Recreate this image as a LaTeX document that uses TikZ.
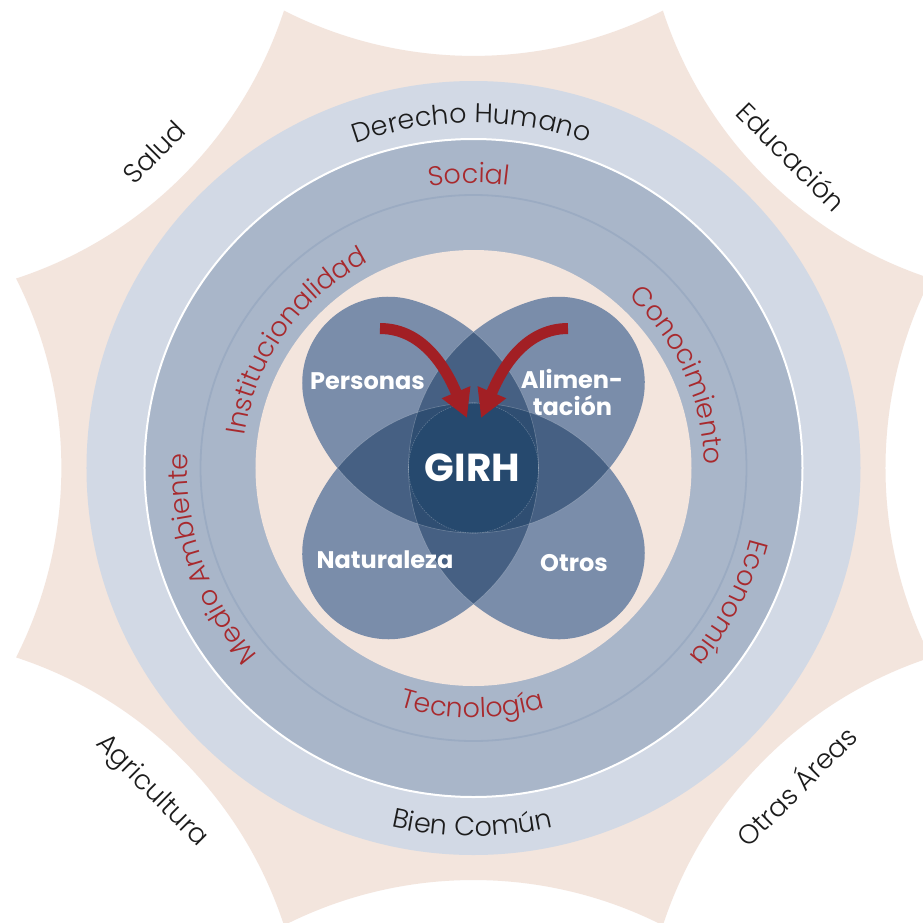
\documentclass[tikz,border=0pt]{standalone}
\usepackage{fontspec}
\setmainfont{Poppins}
\IfFontExistsTF{Poppins Light}{\newfontfamily\lightfam{Poppins Light}}{\newfontfamily\lightfam{Poppins}}
\usetikzlibrary{decorations.text,arrows.meta}
\definecolor{peach}{HTML}{F3E5DD}
\definecolor{ringlight}{HTML}{D2D9E5}
\definecolor{ringdark}{HTML}{A9B6C9}
\definecolor{ringline}{HTML}{9BABC2}
\definecolor{petalL}{HTML}{7A8DAA}
\definecolor{petalM}{HTML}{466083}
\definecolor{petalD}{HTML}{2F4E72}
\definecolor{petalC}{HTML}{26496E}
\definecolor{ringred}{HTML}{A8292D}
\definecolor{arrowred}{HTML}{A21F24}
\definecolor{textblack}{HTML}{1C1C1C}
\newcommand{\ringfont}{\lightfam\fontsize{27}{32}\selectfont}
\newcommand{\petalfont}{\fontsize{24}{28}\selectfont\bfseries}
\begin{document}
\begin{tikzpicture}[x=1pt,y=1pt,
  petal/.style={fill=petalL},
  faint/.style={draw=white, draw opacity=0.25, line width=0.6pt},
  bigarrow/.style={draw=arrowred, line width=11pt, -{Triangle[width=29pt,length=28pt]}},
  cornerlabel/.style={font=\ringfont, text=textblack, inner sep=0pt},
  petallabel/.style={font=\petalfont, text=white, anchor=base, inner sep=0pt},
]
\useasboundingbox (-473.5,-454) rectangle (449.5,468);
\clip (-473.5,-454) rectangle (449.5,468);
\fill[white] (-473.5,-454) rectangle (449.5,468);
% star
\fill[peach] (-22.5:495) \foreach \k in {0,...,7}{ arc[start angle={206.91+45*\k}, end angle={153.09+45*\k}, radius=418.6] } -- cycle;
% rings
\fill[ringlight] (0,0) circle[radius=387];
\fill[ringdark] (0,0) circle[radius=329];
\draw[white, line width=2pt] (0,0) circle[radius=329];
\draw[ringline, line width=1.8pt] (0,0) circle[radius=273];
\fill[peach] (0,0) circle[radius=218];
% petals
\foreach \r in {0,90,180,270}{
  \fill[petal, rotate=\r] (65,0) arc[start angle=0, end angle=73.735, radius=174.8]
     arc[start angle=73.735, end angle=196.265, radius=86.256]
     arc[start angle=196.265, end angle=270, radius=174.8]
     arc[start angle=-90, end angle=0, radius=65] -- cycle;
}
\begin{scope}
  \clip (-109.8,0) circle[radius=174.8];
  \fill[petalM] (109.8,0) circle[radius=174.8];
\end{scope}
\begin{scope}
  \clip (0,-109.8) circle[radius=174.8];
  \fill[petalM] (0,109.8) circle[radius=174.8];
\end{scope}
\begin{scope}
  \clip (-109.8,0) circle[radius=174.8];
  \clip (109.8,0) circle[radius=174.8];
  \clip (0,-109.8) circle[radius=174.8];
  \fill[petalD] (0,109.8) circle[radius=174.8];
\end{scope}
\fill[petalC] (0,0) circle[radius=65];
\foreach \r in {0,90,180,270}{
  \draw[faint, rotate=\r] (0,-136) arc[start angle=-51.09, end angle=51.09, radius=174.8];
}
\draw[faint, dash pattern=on 1.5pt off 1pt] (0,0) circle[radius=65];
% ring texts
\path[decorate, decoration={text along path, text align=center, text={|\ringfont\color{textblack}|Derecho Humano}}] (160.3:345) arc[start angle=160.3, end angle=20.3, radius=345];
\path[decorate, decoration={text along path, text align=center, text={|\ringfont\color{textblack}|Bien Común}}] (199.8:368) arc[start angle=199.8, end angle=339.8, radius=368];
\path[decorate, decoration={text along path, text align=center, text={|\ringfont\color{ringred}|Social}}] (160.9:285) arc[start angle=160.9, end angle=20.9, radius=285];
\path[decorate, decoration={text along path, text align=center, text={|\ringfont\color{ringred}|Economía}}] (42.3:286) arc[start angle=42.3, end angle=-97.7, radius=286];
\path[decorate, decoration={text along path, text align=center, text={|\ringfont\color{ringred}|Medio Ambiente}}] (269:286) arc[start angle=269, end angle=129, radius=286];
\path[decorate, decoration={text along path, text align=center, text={|\ringfont\color{ringred}|Institucionalidad}}] (214.5:231) arc[start angle=214.5, end angle=74.5, radius=231];
\path[decorate, decoration={text along path, text align=center, text={|\ringfont\color{ringred}|Conocimiento}}] (94.3:231) arc[start angle=94.3, end angle=-45.7, radius=231];
\path[decorate, decoration={text along path, text align=center, text={|\ringfont\color{ringred}|Tecnología}}] (199.7:250) arc[start angle=199.7, end angle=339.7, radius=250];
% corner labels
\node[cornerlabel, rotate=45] (salud) at (-319.5,316) {Salud};
\node[cornerlabel, rotate=-45] (educ) at (318,311.5) {Educación};
\node[cornerlabel, rotate=-45] (agri) at (-322,-323.5) {Agricultura};
\node[cornerlabel, rotate=45] (otras) at (321.5,-317) {Otras Áreas};
% petal labels
\node[petallabel] (personas) at (-106,79) {Personas};
\node[petallabel] (alim1) at (98.5,80) {Alimen-};
\node[petallabel] (alim2) at (99,53) {tación};
\node[petallabel] (natur) at (-88.5,-100) {Naturaleza};
\node[petallabel] (otros) at (100.5,-103) {Otros};
\node[font=\fontsize{39}{44}\selectfont\bfseries, text=white, anchor=base, inner sep=0pt] (girh) at (-1,-13) {GIRH};
% arrows
\coordinate (la-start) at (-93.5,139.5);
\coordinate (la-end) at (-6.5,50);
\coordinate (ra-start) at (94.5,139.5);
\coordinate (ra-end) at (7.5,50);
\draw[bigarrow] (la-start) .. controls (-48.5,139.5) and (-26,96) .. (la-end);
\draw[bigarrow] (ra-start) .. controls (49.5,139.5) and (27,96) .. (ra-end);
\end{tikzpicture}
\end{document}
